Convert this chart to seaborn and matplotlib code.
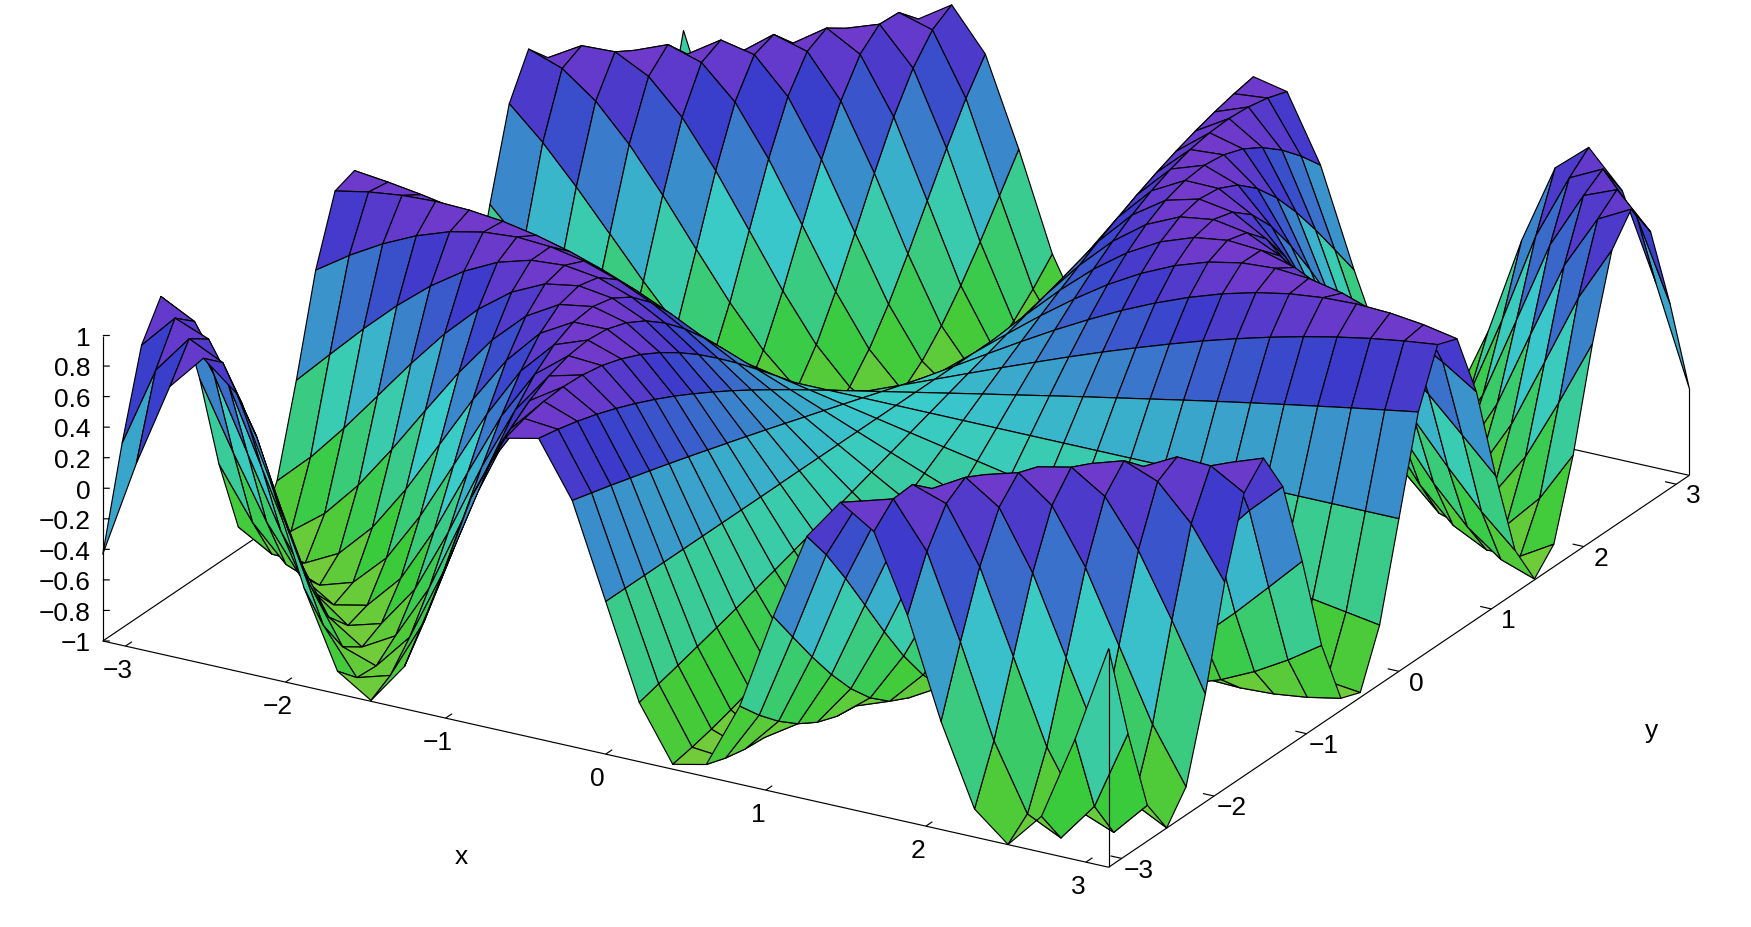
import numpy as np
import matplotlib
matplotlib.use("Agg")
import matplotlib.pyplot as plt
from mpl_toolkits.mplot3d import proj3d
import seaborn as sns

# Vertex heights for the quadrant x>=0, y>=0 (rows: x index 0..15, cols: y index 0..15).
# Estimates: the surface was recognised from the picture as having the shape of sin(x*y)
# on a 31x31 grid, and these literals were worked out from that shape, not measured
# vertex by vertex. Checked against the picture at corners (+/-0.43), ridges and valleys.
z_quadrant = [
    [0, 0, 0, 0, 0, 0, 0, 0, 0, 0, 0, 0, 0, 0, 0, 0],
    [0, .044, .088, .131, .175, .218, .260, .302, .344, .385, .425, .464, .502, .540, .576, .612],
    [0, .088, .175, .260, .344, .425, .502, .576, .646, .710, .769, .822, .869, .909, .942, .968],
    [0, .131, .260, .385, .502, .612, .710, .796, .869, .926, .968, .992, 1.0, .990, .963, .920],
    [0, .175, .344, .502, .646, .769, .869, .942, .986, 1.0, .983, .936, .860, .758, .633, .488],
    [0, .218, .425, .612, .769, .890, .968, .999, .983, .920, .812, .666, .488, .287, .071, -.148],
    [0, .260, .502, .710, .869, .968, 1.0, .963, .860, .698, .488, .244, -.017, -.276, -.517, -.722],
    [0, .302, .576, .796, .942, .999, .963, .837, .633, .369, .071, -.234, -.517, -.751, -.916, -.994],
    [0, .344, .646, .869, .986, .983, .860, .633, .328, -.017, -.359, -.658, -.877, -.989, -.980, -.852],
    [0, .385, .710, .926, 1.0, .920, .698, .369, -.017, -.400, -.722, -.932, -1.0, -.913, -.686, -.354],
    [0, .425, .769, .968, .983, .812, .488, .071, -.359, -.722, -.947, -.994, -.852, -.549, -.142, .292],
    [0, .464, .822, .992, .936, .666, .244, -.234, -.658, -.932, -.994, -.828, -.473, -.011, .455, .816],
    [0, .502, .869, 1.0, .860, .488, -.017, -.517, -.877, -1.0, -.852, -.473, .033, .531, .885, .999],
    [0, .540, .909, .990, .758, .287, -.276, -.751, -.989, -.913, -.549, -.011, .531, .904, .992, .765],
    [0, .576, .942, .963, .633, .071, -.517, -.916, -.980, -.686, -.142, .455, .885, .992, .736, .211],
    [0, .612, .968, .920, .488, -.148, -.722, -.994, -.852, -.354, .292, .816, .999, .765, .211, -.431],
]
x_ticks = [-3, -2, -1, 0, 1, 2, 3]
y_ticks = [-3, -2, -1, 0, 1, 2, 3]
z_ticks = [-1, -0.8, -0.6, -0.4, -0.2, 0, 0.2, 0.4, 0.6, 0.8, 1]
z_tick_labels = ["\u22121", "\u22120.8", "\u22120.6", "\u22120.4", "\u22120.2", "0",
                 "0.2", "0.4", "0.6", "0.8", "1"]

sns.set_theme(style="white")
plt.rcParams["font.family"] = ["Liberation Sans", "DejaVu Sans"]

Q = np.array(z_quadrant, dtype=float)
Z = np.block([[Q[::-1, ::-1], -Q[::-1, 1:]],
              [-Q[1:, ::-1], Q[1:, 1:]]])
PI = np.pi
grid = np.linspace(-PI, PI, Z.shape[0])
X, Y = np.meshgrid(grid, grid, indexing="ij")

# facet colour from the mean height of its four corners
hues = sns.hls_palette(256, h=0, l=0.51, s=0.58)
HUE_LOW, HUE_HIGH = 0.26, 0.74
zm = (Z[:-1, :-1] + Z[1:, :-1] + Z[:-1, 1:] + Z[1:, 1:]) / 4
idx = ((HUE_LOW + (zm + 1) / 2 * (HUE_HIGH - HUE_LOW)) * 256).astype(int)
facecolors = np.array(hues)[idx]

W, H = 1751, 927
FS = 19
fig = plt.figure(figsize=(W / 100, H / 100), dpi=100, facecolor="white")
ax = fig.add_axes([-3.1 / W, (H - W) / 2 / H + 34.4 / H, 1, W / H], projection="3d")
ax.set_proj_type("ortho")
ax.view_init(elev=22.93, azim=-60)
ax.set_box_aspect((1, 1, 0.2856), zoom=0.929)
ax.set_xlim(-PI, PI)
ax.set_ylim(-PI, PI)
ax.set_zlim(-1, 1)
ax.set_xticks([])
ax.set_yticks([])
ax.set_zticks([])
ax.set_axis_off()
ax.computed_zorder = False

LW = 0.85
def seg(xs, ys, zs, zo):
    ax.plot(xs, ys, zs, color="black", lw=LW, zorder=zo, solid_capstyle="butt")

def label(x, y, z, s, ha="center"):
    # place a tick label at a 3D data position, projected through the axes' own view
    px, py, _ = proj3d.proj_transform(x, y, z, ax.get_proj())
    ax.text2D(px, py, s, transform=ax.transData, fontsize=FS, ha=ha, va="center",
              color="black", zorder=4)

# floor edges, behind the surface
seg([-PI, -PI], [-PI, PI], [-1, -1], 1)
seg([-PI, PI], [PI, PI], [-1, -1], 1)
seg([-PI, PI], [-PI, -PI], [-1, -1], 1)
seg([PI, PI], [-PI, PI], [-1, -1], 1)
for t in x_ticks:
    seg([t, t], [-PI, -PI + 0.07], [-1, -1], 1)
    label(t + 0.136, -PI - 0.321, -1, str(t).replace("-", "\u2212"))
for t in y_ticks:
    seg([PI, PI - 0.07], [t, t], [-1, -1], 1)
    label(PI + 0.166, t - 0.10, -1, str(t).replace("-", "\u2212"))

surf = ax.plot_surface(X, Y, Z, rstride=1, cstride=1, facecolors=facecolors,
                       edgecolor="black", linewidth=LW, shade=False,
                       antialiased=True, zorder=2)

# z axis and corner verticals, in front
seg([-PI, -PI], [-PI, -PI], [-1, 1], 3)
seg([PI, PI], [-PI, -PI], [-1, Z[-1, 0]], 3)
seg([PI, PI], [PI, PI], [-1, Z[-1, -1]], 3)
for t, lab in zip(z_ticks, z_tick_labels):
    seg([-PI, -PI + 0.0328], [-PI, -PI + 0.0189], [t, t], 3)
    label(-PI - 0.056, -PI - 0.032, t - 0.022, lab, ha="right")

fig.text(461 / W, 1 - 857 / H, "x", fontsize=FS, ha="center", va="center", color="black")
fig.text(1652 / W, 1 - 731 / H, "y", fontsize=FS, ha="center", va="center", color="black")

fig.savefig("out.png", dpi=100, facecolor="white")
